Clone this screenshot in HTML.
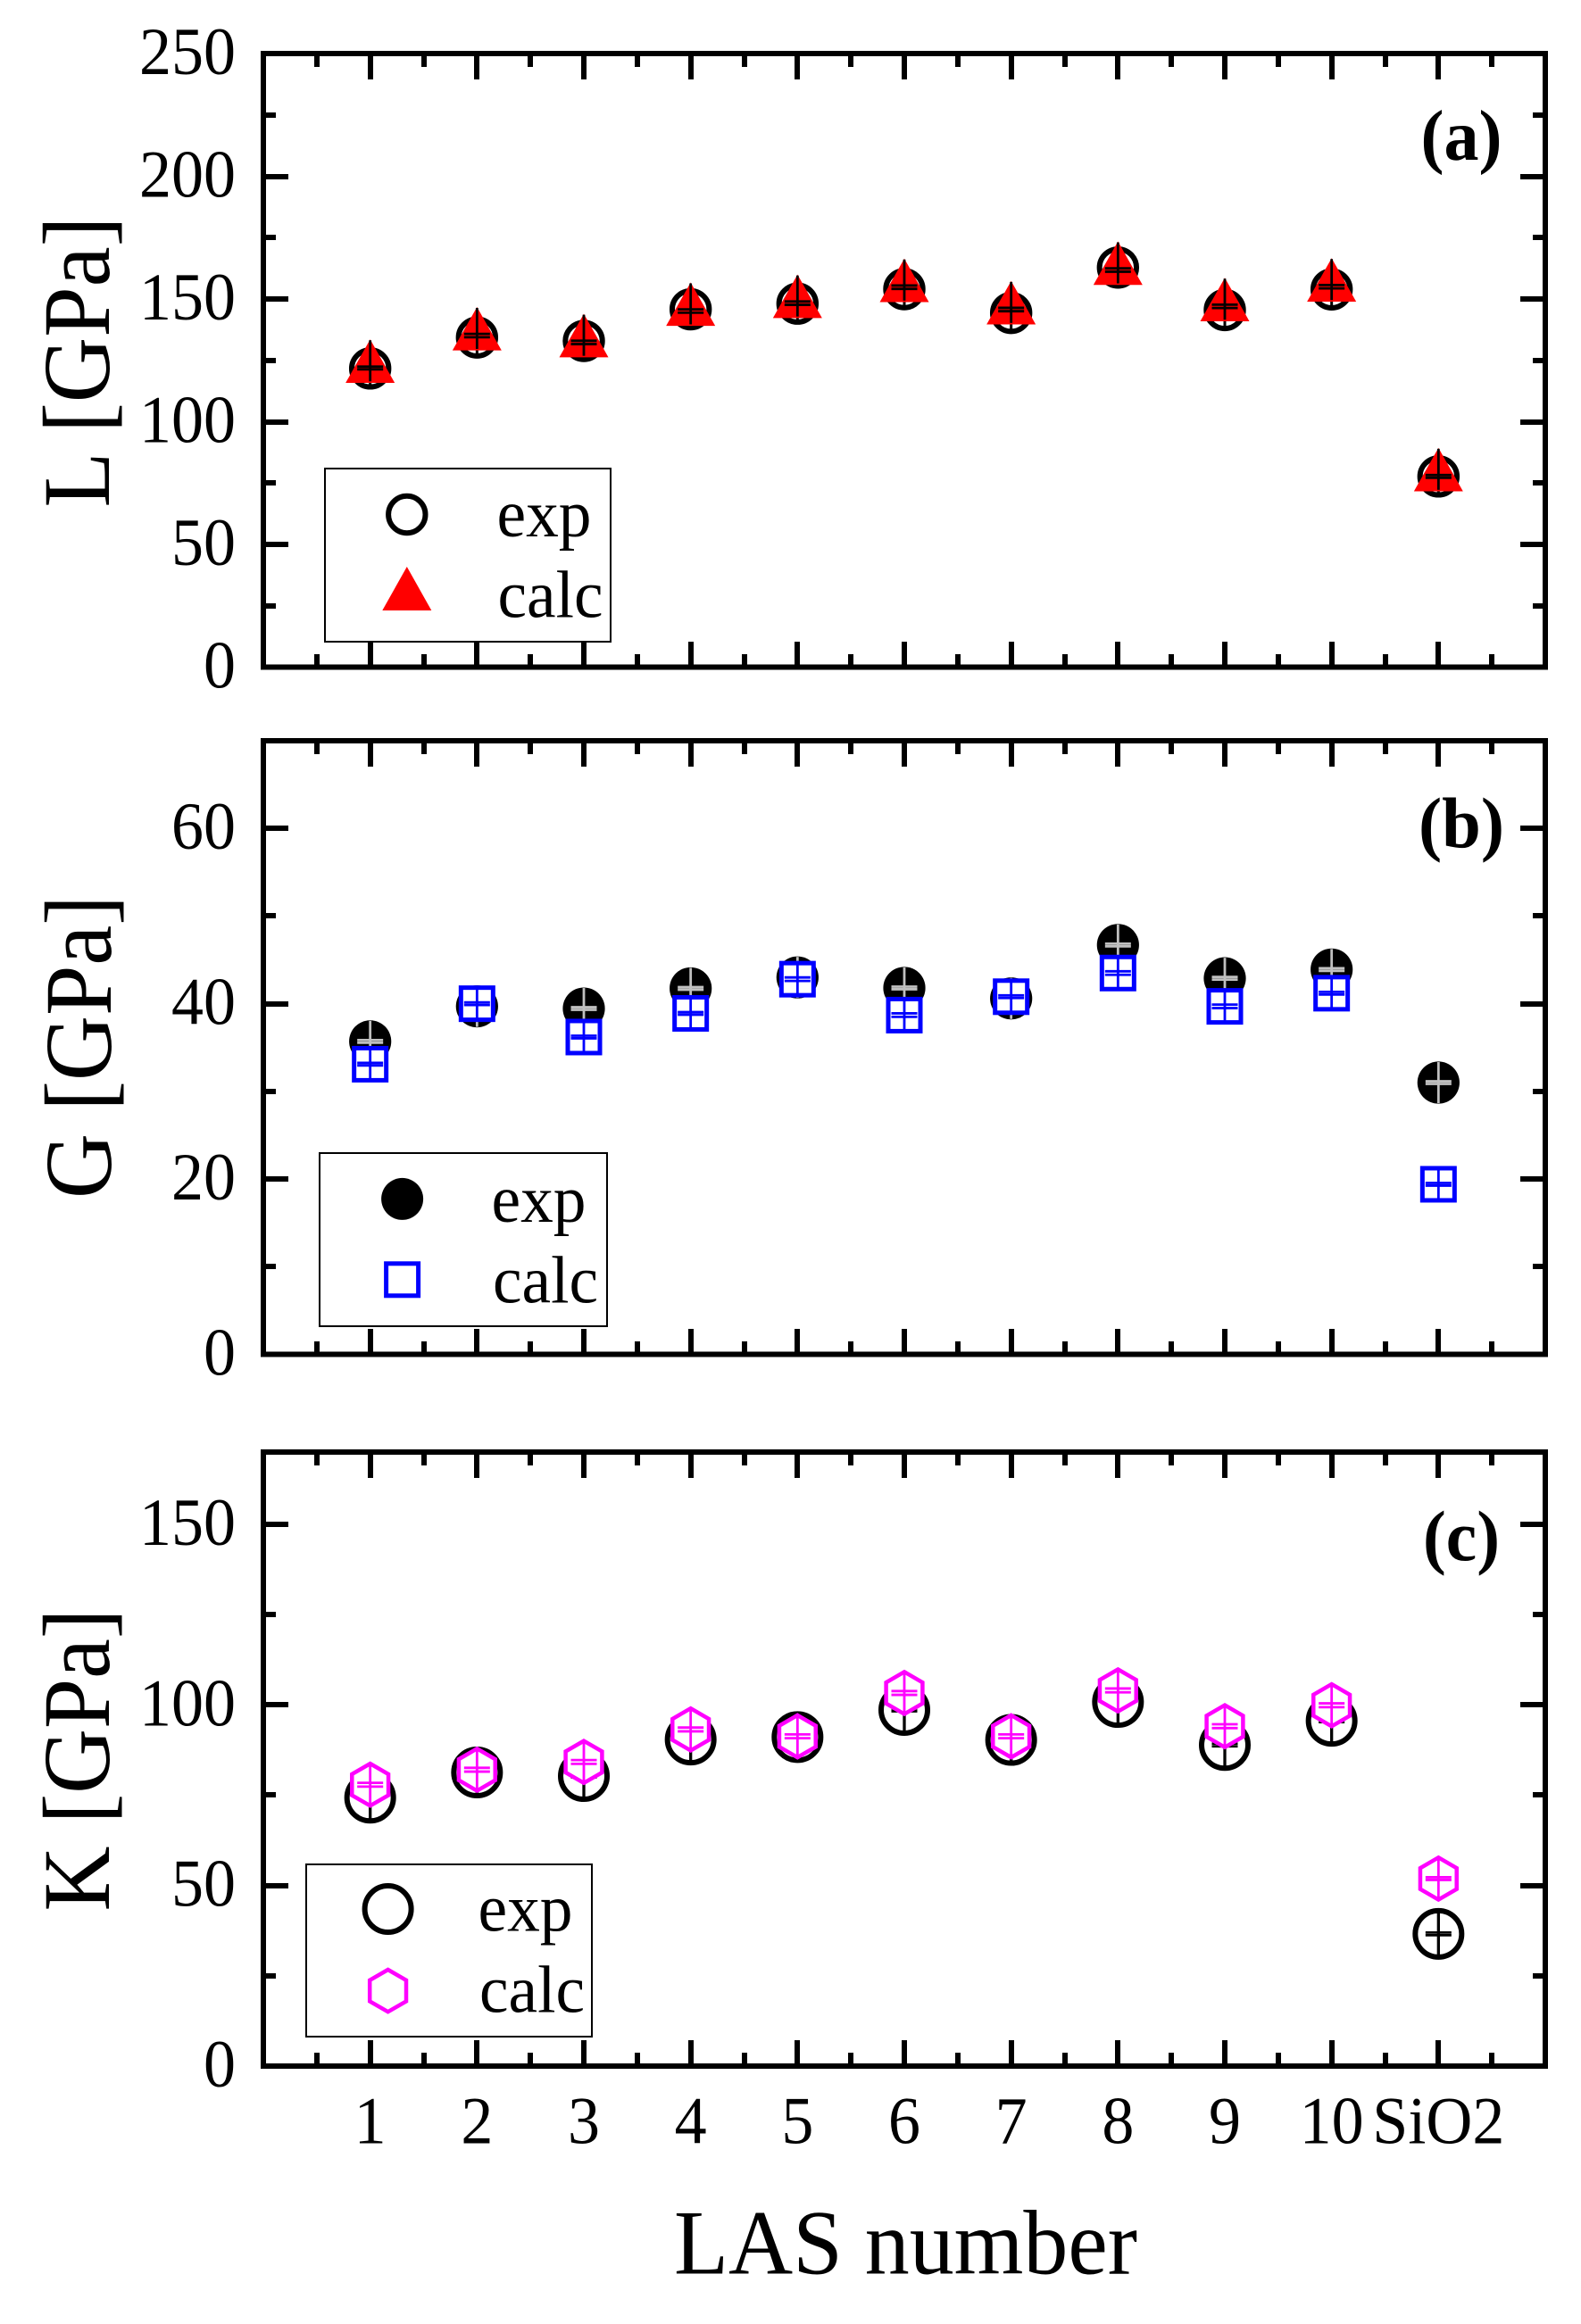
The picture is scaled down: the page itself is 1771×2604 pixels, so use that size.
<!DOCTYPE html>
<html lang="en">
<head>
<meta charset="utf-8">
<title>Elastic moduli of LAS glasses</title>
<style>
html,body{margin:0;padding:0;background:#fff;}
svg{display:block;}
text{font-family:"Liberation Serif",serif;fill:#000;}
</style>
</head>
<body>
<svg id="chart" xmlns="http://www.w3.org/2000/svg" width="1771" height="2604" viewBox="0 0 1771 2604">
  <rect x="0" y="0" width="1771" height="2604" fill="#fff"/>
  <g id="panels"></g>

  <text transform="translate(122,405.5) rotate(-90)" text-anchor="middle" font-size="107" textLength="326" lengthAdjust="spacingAndGlyphs">L [GPa]</text>
  <text transform="translate(124,1173) rotate(-90)" text-anchor="middle" font-size="107" textLength="340" lengthAdjust="spacingAndGlyphs">G [GPa]</text>
  <text transform="translate(122,1972) rotate(-90)" text-anchor="middle" font-size="107" textLength="339" lengthAdjust="spacingAndGlyphs">K [GPa]</text>
  <text x="1014.5" y="2547.5" text-anchor="middle" font-size="103" textLength="519" lengthAdjust="spacingAndGlyphs">LAS number</text>

  <text x="1637" y="179" text-anchor="middle" font-size="80" font-weight="bold" textLength="91" lengthAdjust="spacingAndGlyphs">(a)</text>
  <text x="1637" y="949.5" text-anchor="middle" font-size="80" font-weight="bold" textLength="96" lengthAdjust="spacingAndGlyphs">(b)</text>
  <text x="1637" y="1748.5" text-anchor="middle" font-size="80" font-weight="bold" textLength="86" lengthAdjust="spacingAndGlyphs">(c)</text>

  <g>
    <rect x="364" y="525" width="320" height="194" fill="#fff" stroke="#000" stroke-width="2" shape-rendering="crispEdges"/>
    <circle cx="455.8" cy="576.5" r="20.7" fill="#fff" stroke="#000" stroke-width="6"/>
    <polygon points="455.8,635 483.3,684 428.3,684" fill="#f00"/>
    <text x="556.5" y="601" font-size="75" textLength="106" lengthAdjust="spacingAndGlyphs">exp</text>
    <text x="557.5" y="691.3" font-size="75" textLength="118" lengthAdjust="spacingAndGlyphs">calc</text>
  </g>
  <g>
    <rect x="358" y="1292" width="322" height="194" fill="#fff" stroke="#000" stroke-width="2" shape-rendering="crispEdges"/>
    <circle cx="450.6" cy="1343.4" r="23.5" fill="#000"/>
    <rect x="432.6" y="1415.8" width="36" height="36" fill="#fff" stroke="#00f" stroke-width="5"/>
    <text x="550.5" y="1369" font-size="75" textLength="106" lengthAdjust="spacingAndGlyphs">exp</text>
    <text x="552" y="1459.7" font-size="75" textLength="118" lengthAdjust="spacingAndGlyphs">calc</text>
  </g>
  <g>
    <rect x="343" y="2089" width="320" height="193" fill="#fff" stroke="#000" stroke-width="2" shape-rendering="crispEdges"/>
    <circle cx="434.6" cy="2139" r="26" fill="#fff" stroke="#000" stroke-width="6"/>
    <polygon points="434.6,2207 455,2218.8 455,2242.4 434.6,2254.2 414.2,2242.4 414.2,2218.8" fill="#fff" stroke="#f0f" stroke-width="4.5"/>
    <text x="535.5" y="2163.4" font-size="75" textLength="106" lengthAdjust="spacingAndGlyphs">exp</text>
    <text x="537" y="2254.3" font-size="75" textLength="118" lengthAdjust="spacingAndGlyphs">calc</text>
  </g>
</svg>

<script>
const categories = ['1','2','3','4','5','6','7','8','9','10','SiO2'];

const lTicks = [0,50,100,150,200,250];
const gTicks = [0,20,40,60];
const kTicks = [0,50,100,150];

const lMinorTicks = [25,75,125,175,225];
const gMinorTicks = [10,30,50];
const kMinorTicks = [25,75,125];

const lExp = [121.7,134.3,132.9,145.8,148.1,154.0,144.3,162.8,145.5,153.9,77.7];
const lCalc = [121.9,135.1,132.3,145.1,148.3,154.8,145.7,161.8,147.0,155.0,77.7];
const lCalcErr = [0.55,0.68,0.68,0.68,0.68,0.68,0.68,0.68,0.68,0.68,0.55];

const gExp = [35.7,39.7,39.45,41.75,43.0,41.8,40.6,46.7,42.9,43.9,31.0];
const gCalc = [33.1,40.0,36.2,38.9,42.8,38.7,40.8,43.5,39.7,41.2,19.4];
const gCalcErr = [0.15,0.15,0.15,0.15,0.2,0.2,0.15,0.2,0.2,0.15,0.15];
const gExpErr = [0.15,0.15,0.15,0.15,0.15,0.15,0.15,0.15,0.15,0.15,0.15];

const kExp = [74.3,81.3,80.3,90.4,91.1,98.6,90.3,100.8,88.9,95.6,36.6];
const kCalc = [77.9,82.05,84.2,93.2,91.3,103.3,91.3,104.0,94.1,99.9,51.9];
const kCalcErr = [0.53,0.53,0.53,0.53,0.53,0.53,0.53,0.53,0.53,0.53,0.37];
const kExpErr = [0.37,0.37,0.37,0.37,0.37,0.37,0.37,0.37,0.37,0.37,0.37];

const lYMax = 250;
const gYMax = 70;
const kYMax = 170;
const xMax = 12;

const plotLeft = 295;
const plotRight = 1731;
const SVG_NS = 'http://www.w3.org/2000/svg';
const root = document.getElementById('panels');

function xScale(position) {
  return plotLeft + (plotRight - plotLeft) * position / xMax;
}

function yScaleFor(top, bottom, maxValue) {
  return function (value) {
    return bottom - (bottom - top) * value / maxValue;
  };
}

function make(parent, tag, name, attrs) {
  const el = document.createElementNS(SVG_NS, tag);
  
  
  Object.keys(attrs).forEach(function (key) { el.setAttribute(key, attrs[key]); });
  parent.appendChild(el);
  return el;
}

function line(parent, name, x1, y1, x2, y2, color, width) {
  return make(parent, 'line', name, {x1: x1, y1: y1, x2: x2, y2: y2, stroke: color, 'stroke-width': width});
}

function tickLine(parent, name, x1, y1, x2, y2) {
  const el = line(parent, name, Math.round(x1), Math.round(y1), Math.round(x2), Math.round(y2), '#000', 6);
  el.setAttribute('shape-rendering', 'crispEdges');
  return el;
}

function narrowLabel(label) {
  label.setAttribute('textLength', (label.getComputedTextLength() * 0.96).toFixed(2));
  label.setAttribute('lengthAdjust', 'spacingAndGlyphs');
}

function drawAxes(group, prefix, top, bottom, yScale, majorTicks, minorTicks, showXLabels) {
  make(group, 'rect', prefix + '-frame', {
    x: plotLeft, y: top, width: plotRight - plotLeft, height: bottom - top,
    fill: 'none', stroke: '#000', 'stroke-width': 6, 'shape-rendering': 'crispEdges'
  });
  for (let p = 1; p < xMax * 2; p++) {
    const pos = p / 2;
    const isMajor = p % 2 === 0;
    const len = isMajor ? 29 : 15;
    const name = prefix + (isMajor ? '-x-major-tick' : '-x-minor-tick');
    tickLine(group, name, xScale(pos), top, xScale(pos), top + len);
    tickLine(group, name, xScale(pos), bottom, xScale(pos), bottom - len);
  }
  majorTicks.forEach(function (tick) {
    const y = yScale(tick);
    if (tick !== 0 && y > top + 3) {
      tickLine(group, prefix + '-y-major-tick', plotLeft, y, plotLeft + 28, y);
      tickLine(group, prefix + '-y-major-tick', plotRight, y, plotRight - 28, y);
    }
    const label = make(group, 'text', prefix + '-y-tick-label', {
      x: 264, y: y + 23, 'text-anchor': 'end', 'font-size': 75
    });
    label.textContent = String(tick);
    narrowLabel(label);
  });
  minorTicks.forEach(function (tick) {
    const y = yScale(tick);
    tickLine(group, prefix + '-y-minor-tick', plotLeft, y, plotLeft + 14, y);
    tickLine(group, prefix + '-y-minor-tick', plotRight, y, plotRight - 14, y);
  });
  if (showXLabels) {
    categories.forEach(function (category, i) {
      const label = make(group, 'text', 'x-tick-label', {
        x: xScale(i + 1), y: 2401.5, 'text-anchor': 'middle', 'font-size': 75
      });
      label.textContent = category;
      narrowLabel(label);
    });
  }
}

function drawCross(group, name, cx, yValue, yUpper, yLower, up, down, color, vWidth) {
  line(group, name + '-stem', cx, yValue - up, cx, yValue + down, color, vWidth);
  line(group, name + '-cap-upper', cx - 14.5, yUpper, cx + 14.5, yUpper, color, 2.8);
  line(group, name + '-cap-lower', cx - 14.5, yLower, cx + 14.5, yLower, color, 2.8);
}

function drawPanelL() {
  const g = make(root, 'g', 'panel-l', {});
  const y = yScaleFor(60, 747.5, lYMax);
  drawAxes(g, 'panel-l', 60, 747.5, y, lTicks, lMinorTicks, false);
  lExp.forEach(function (value, i) {
    const cx = xScale(i + 1);
    const cy = y(value);
    make(g, 'circle', 'l-exp-point', {cx: cx, cy: cy, r: 20.7, fill: '#fff', stroke: '#000', 'stroke-width': 6});
    drawCross(g, 'l-exp-error', cx, cy, cy - 1.5, cy + 1.5, 23, 23, '#000', 3);
  });
  lCalc.forEach(function (value, i) {
    const cx = xScale(i + 1);
    const cy = y(value);
    make(g, 'polygon', 'l-calc-point', {
      points: cx + ',' + (cy - 32) + ' ' + (cx + 27.5) + ',' + (cy + 16.7) + ' ' + (cx - 27.5) + ',' + (cy + 16.7),
      fill: '#f00'
    });
    drawCross(g, 'l-calc-error', cx, cy, y(value + lCalcErr[i]), y(value - lCalcErr[i]), 31, 15, '#000', 2.8);
  });
}

function drawPanelG() {
  const g = make(root, 'g', 'panel-g', {});
  const y = yScaleFor(830, 1517.5, gYMax);
  drawAxes(g, 'panel-g', 830, 1517.5, y, gTicks, gMinorTicks, false);
  gExp.forEach(function (value, i) {
    const cx = xScale(i + 1);
    const cy = y(value);
    make(g, 'circle', 'g-exp-point', {cx: cx, cy: cy, r: 23.6, fill: '#000'});
    drawCross(g, 'g-exp-error', cx, cy, y(value + gExpErr[i]), y(value - gExpErr[i]), 23, 23, '#c0c0c0', 2.8);
  });
  gCalc.forEach(function (value, i) {
    const cx = xScale(i + 1);
    const cy = y(value);
    make(g, 'rect', 'g-calc-point', {
      x: cx - 18, y: cy - 18, width: 36, height: 36,
      fill: '#fff', stroke: '#00f', 'stroke-width': 5
    });
    drawCross(g, 'g-calc-error', cx, cy, y(value + gCalcErr[i]), y(value - gCalcErr[i]), 19, 19, '#00f', 2.8);
  });
}

function drawPanelK() {
  const g = make(root, 'g', 'panel-k', {});
  const y = yScaleFor(1627, 2315, kYMax);
  drawAxes(g, 'panel-k', 1627, 2315, y, kTicks, kMinorTicks, true);
  kExp.forEach(function (value, i) {
    const cx = xScale(i + 1);
    const cy = y(value);
    make(g, 'circle', 'k-exp-point', {cx: cx, cy: cy, r: 26, fill: '#fff', stroke: '#000', 'stroke-width': 6});
    drawCross(g, 'k-exp-error', cx, cy, y(value + kExpErr[i]), y(value - kExpErr[i]), 28, 28, '#000', 3.3);
  });
  kCalc.forEach(function (value, i) {
    const cx = xScale(i + 1);
    const cy = y(value);
    const R = 23.6;
    const w = 20.4;
    make(g, 'polygon', 'k-calc-point', {
      points: [
        cx + ',' + (cy - R),
        (cx + w) + ',' + (cy - R / 2),
        (cx + w) + ',' + (cy + R / 2),
        cx + ',' + (cy + R),
        (cx - w) + ',' + (cy + R / 2),
        (cx - w) + ',' + (cy - R / 2)
      ].join(' '),
      fill: '#fff', stroke: '#f0f', 'stroke-width': 4.5
    });
    drawCross(g, 'k-calc-error', cx, cy, y(value + kCalcErr[i]), y(value - kCalcErr[i]), 24, 24, '#f0f', 2.8);
  });
}

drawPanelL();
drawPanelG();
drawPanelK();
</script>
</body>
</html>
